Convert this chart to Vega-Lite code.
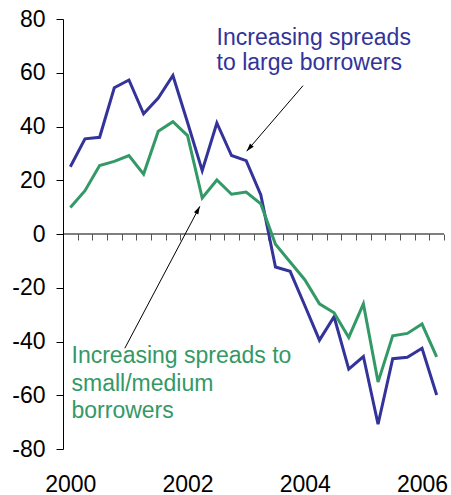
{
  "$schema": "https://vega.github.io/schema/vega-lite/v6.json",
  "width": 381,
  "height": 430,
  "autosize": "none",
  "padding": {"left": 63, "top": 19, "right": 7, "bottom": 46},
  "background": "white",
  "config": {"view": {"stroke": null}, "font": "Liberation Sans"},
  "datasets": {
    "spreads": [
      {"year": 2000.0, "series": "large", "value": 25.0},
      {"year": 2000.25, "series": "large", "value": 35.4},
      {"year": 2000.5, "series": "large", "value": 36.0},
      {"year": 2000.75, "series": "large", "value": 54.4},
      {"year": 2001.0, "series": "large", "value": 57.3},
      {"year": 2001.25, "series": "large", "value": 44.7},
      {"year": 2001.5, "series": "large", "value": 50.6},
      {"year": 2001.75, "series": "large", "value": 59.0},
      {"year": 2002.0, "series": "large", "value": 41.5},
      {"year": 2002.25, "series": "large", "value": 23.6},
      {"year": 2002.5, "series": "large", "value": 41.3},
      {"year": 2002.75, "series": "large", "value": 29.2},
      {"year": 2003.0, "series": "large", "value": 27.3},
      {"year": 2003.25, "series": "large", "value": 14.5},
      {"year": 2003.5, "series": "large", "value": -12.3},
      {"year": 2003.75, "series": "large", "value": -13.9},
      {"year": 2004.0, "series": "large", "value": -26.6},
      {"year": 2004.25, "series": "large", "value": -39.5},
      {"year": 2004.5, "series": "large", "value": -30.8},
      {"year": 2004.75, "series": "large", "value": -50.3},
      {"year": 2005.0, "series": "large", "value": -45.6},
      {"year": 2005.25, "series": "large", "value": -70.8},
      {"year": 2005.5, "series": "large", "value": -46.4},
      {"year": 2005.75, "series": "large", "value": -45.9},
      {"year": 2006.0, "series": "large", "value": -42.5},
      {"year": 2006.25, "series": "large", "value": -59.9},
      {"year": 2000.0, "series": "small", "value": 9.9},
      {"year": 2000.25, "series": "small", "value": 16.1},
      {"year": 2000.5, "series": "small", "value": 25.5},
      {"year": 2000.75, "series": "small", "value": 27.0},
      {"year": 2001.0, "series": "small", "value": 29.2},
      {"year": 2001.25, "series": "small", "value": 22.3},
      {"year": 2001.5, "series": "small", "value": 38.2},
      {"year": 2001.75, "series": "small", "value": 41.8},
      {"year": 2002.0, "series": "small", "value": 36.6},
      {"year": 2002.25, "series": "small", "value": 13.4},
      {"year": 2002.5, "series": "small", "value": 20.1},
      {"year": 2002.75, "series": "small", "value": 14.8},
      {"year": 2003.0, "series": "small", "value": 15.6},
      {"year": 2003.25, "series": "small", "value": 11.2},
      {"year": 2003.5, "series": "small", "value": -3.8},
      {"year": 2003.75, "series": "small", "value": -10.4},
      {"year": 2004.0, "series": "small", "value": -17.0},
      {"year": 2004.25, "series": "small", "value": -26.0},
      {"year": 2004.5, "series": "small", "value": -29.3},
      {"year": 2004.75, "series": "small", "value": -38.5},
      {"year": 2005.0, "series": "small", "value": -26.0},
      {"year": 2005.25, "series": "small", "value": -55.1},
      {"year": 2005.5, "series": "small", "value": -37.9},
      {"year": 2005.75, "series": "small", "value": -37.0},
      {"year": 2006.0, "series": "small", "value": -33.5},
      {"year": 2006.25, "series": "small", "value": -45.7}
    ],
    "arrows": [
      {"name": "large", "x": 2003.97, "y": 55.2, "x2": 2003.008, "y2": 30.8},
      {"name": "small", "x": 2000.93, "y": -42.5, "x2": 2002.21, "y2": 10.3}
    ],
    "notes": [
      {"name": "large", "x": 2002.495, "y": 70.3, "label": "Increasing spreads\nto large borrowers"},
      {"name": "small", "x": 2000.02, "y": -48.1, "label": "Increasing spreads to\nsmall/medium\nborrowers"}
    ]
  },
  "resolve": {"scale": {"x": "independent"}, "axis": {"x": "independent"}},
  "layer": [
    {
      "data": {"values": [{"zero": 0}]},
      "mark": {"type": "rule", "color": "black", "strokeWidth": 1},
      "encoding": {
        "x": {"datum": 1999.875, "type": "quantitative", "scale": {"domain": [1999.875, 2006.375], "nice": false, "zero": false},
          "axis": {"orient": "bottom", "offset": -215, "values": [2000.125, 2000.375, 2000.625, 2000.875, 2001.125, 2001.375, 2001.625, 2001.875, 2002.125, 2002.375, 2002.625, 2002.875, 2003.125, 2003.375, 2003.625, 2003.875, 2004.125, 2004.375, 2004.625, 2004.875, 2005.125, 2005.375, 2005.625, 2005.875, 2006.125, 2006.375],
            "labels": false, "domain": false, "grid": false, "ticks": true, "tickSize": 6, "tickColor": "#555555", "tickWidth": 1, "title": null}},
        "x2": {"datum": 2006.375},
        "y": {"datum": 0, "type": "quantitative", "scale": {"domain": [-80, 80], "nice": false}}
      }
    },
    {
      "data": {"name": "spreads"},
      "mark": {"type": "line", "strokeWidth": 3},
      "encoding": {
        "x": {"field": "year", "type": "quantitative", "scale": {"domain": [1999.875, 2006.375], "nice": false, "zero": false},
          "axis": {"orient": "bottom", "values": [2000, 2002, 2004, 2006], "format": "d", "ticks": false, "domain": false, "grid": false,
            "labelFontSize": 23, "labelFont": "Liberation Sans", "labelColor": "black", "labelPadding": 24, "labelFlush": false, "labelOverlap": false, "title": null}},
        "y": {"field": "value", "type": "quantitative", "scale": {"domain": [-80, 80], "nice": false},
          "axis": {"values": [-80, -60, -40, -20, 0, 20, 40, 60, 80], "labelExpr": "'' + datum.value", "grid": false, "tickSize": 7, "tickColor": "black", "domainColor": "black",
            "labelFontSize": 23, "labelFont": "Liberation Sans", "labelColor": "black", "labelPadding": 11, "title": null}},
        "color": {"field": "series", "type": "nominal", "scale": {"domain": ["large", "small"], "range": ["#333399", "#339966"]}, "legend": null}
      }
    },
    {
      "data": {"name": "arrows"},
      "mark": {"type": "rule", "color": "black", "strokeWidth": 1},
      "encoding": {
        "x": {"field": "x", "type": "quantitative", "scale": {"domain": [1999.875, 2006.375], "nice": false, "zero": false}, "axis": null},
        "x2": {"field": "x2"},
        "y": {"field": "y", "type": "quantitative"},
        "y2": {"field": "y2"}
      }
    },
    {
      "data": {"name": "arrows"},
      "transform": [{"filter": "datum.name === 'large'"}],
      "mark": {"type": "point", "shape": "M0,0L0.6,2L-0.6,2Z", "filled": true, "color": "black", "opacity": 1, "size": 64, "angle": 220.6},
      "encoding": {
        "x": {"field": "x2", "type": "quantitative", "scale": {"domain": [1999.875, 2006.375], "nice": false, "zero": false}, "axis": null},
        "y": {"field": "y2", "type": "quantitative"}
      }
    },
    {
      "data": {"name": "arrows"},
      "transform": [{"filter": "datum.name === 'small'"}],
      "mark": {"type": "point", "shape": "M0,0L0.6,2L-0.6,2Z", "filled": true, "color": "black", "opacity": 1, "size": 64, "angle": 27.9},
      "encoding": {
        "x": {"field": "x2", "type": "quantitative", "scale": {"domain": [1999.875, 2006.375], "nice": false, "zero": false}, "axis": null},
        "y": {"field": "y2", "type": "quantitative"}
      }
    },
    {
      "data": {"name": "notes"},
      "transform": [{"filter": "datum.name === 'large'"}],
      "mark": {"type": "text", "align": "left", "baseline": "alphabetic", "fontSize": 23, "font": "Liberation Sans", "color": "#333399", "lineBreak": "\n", "lineHeight": 25},
      "encoding": {
        "x": {"field": "x", "type": "quantitative", "scale": {"domain": [1999.875, 2006.375], "nice": false, "zero": false}, "axis": null},
        "y": {"field": "y", "type": "quantitative"},
        "text": {"field": "label"}
      }
    },
    {
      "data": {"name": "notes"},
      "transform": [{"filter": "datum.name === 'small'"}],
      "mark": {"type": "text", "align": "left", "baseline": "alphabetic", "fontSize": 23, "font": "Liberation Sans", "color": "#339966", "lineBreak": "\n", "lineHeight": 27.5},
      "encoding": {
        "x": {"field": "x", "type": "quantitative", "scale": {"domain": [1999.875, 2006.375], "nice": false, "zero": false}, "axis": null},
        "y": {"field": "y", "type": "quantitative"},
        "text": {"field": "label"}
      }
    }
  ]
}
